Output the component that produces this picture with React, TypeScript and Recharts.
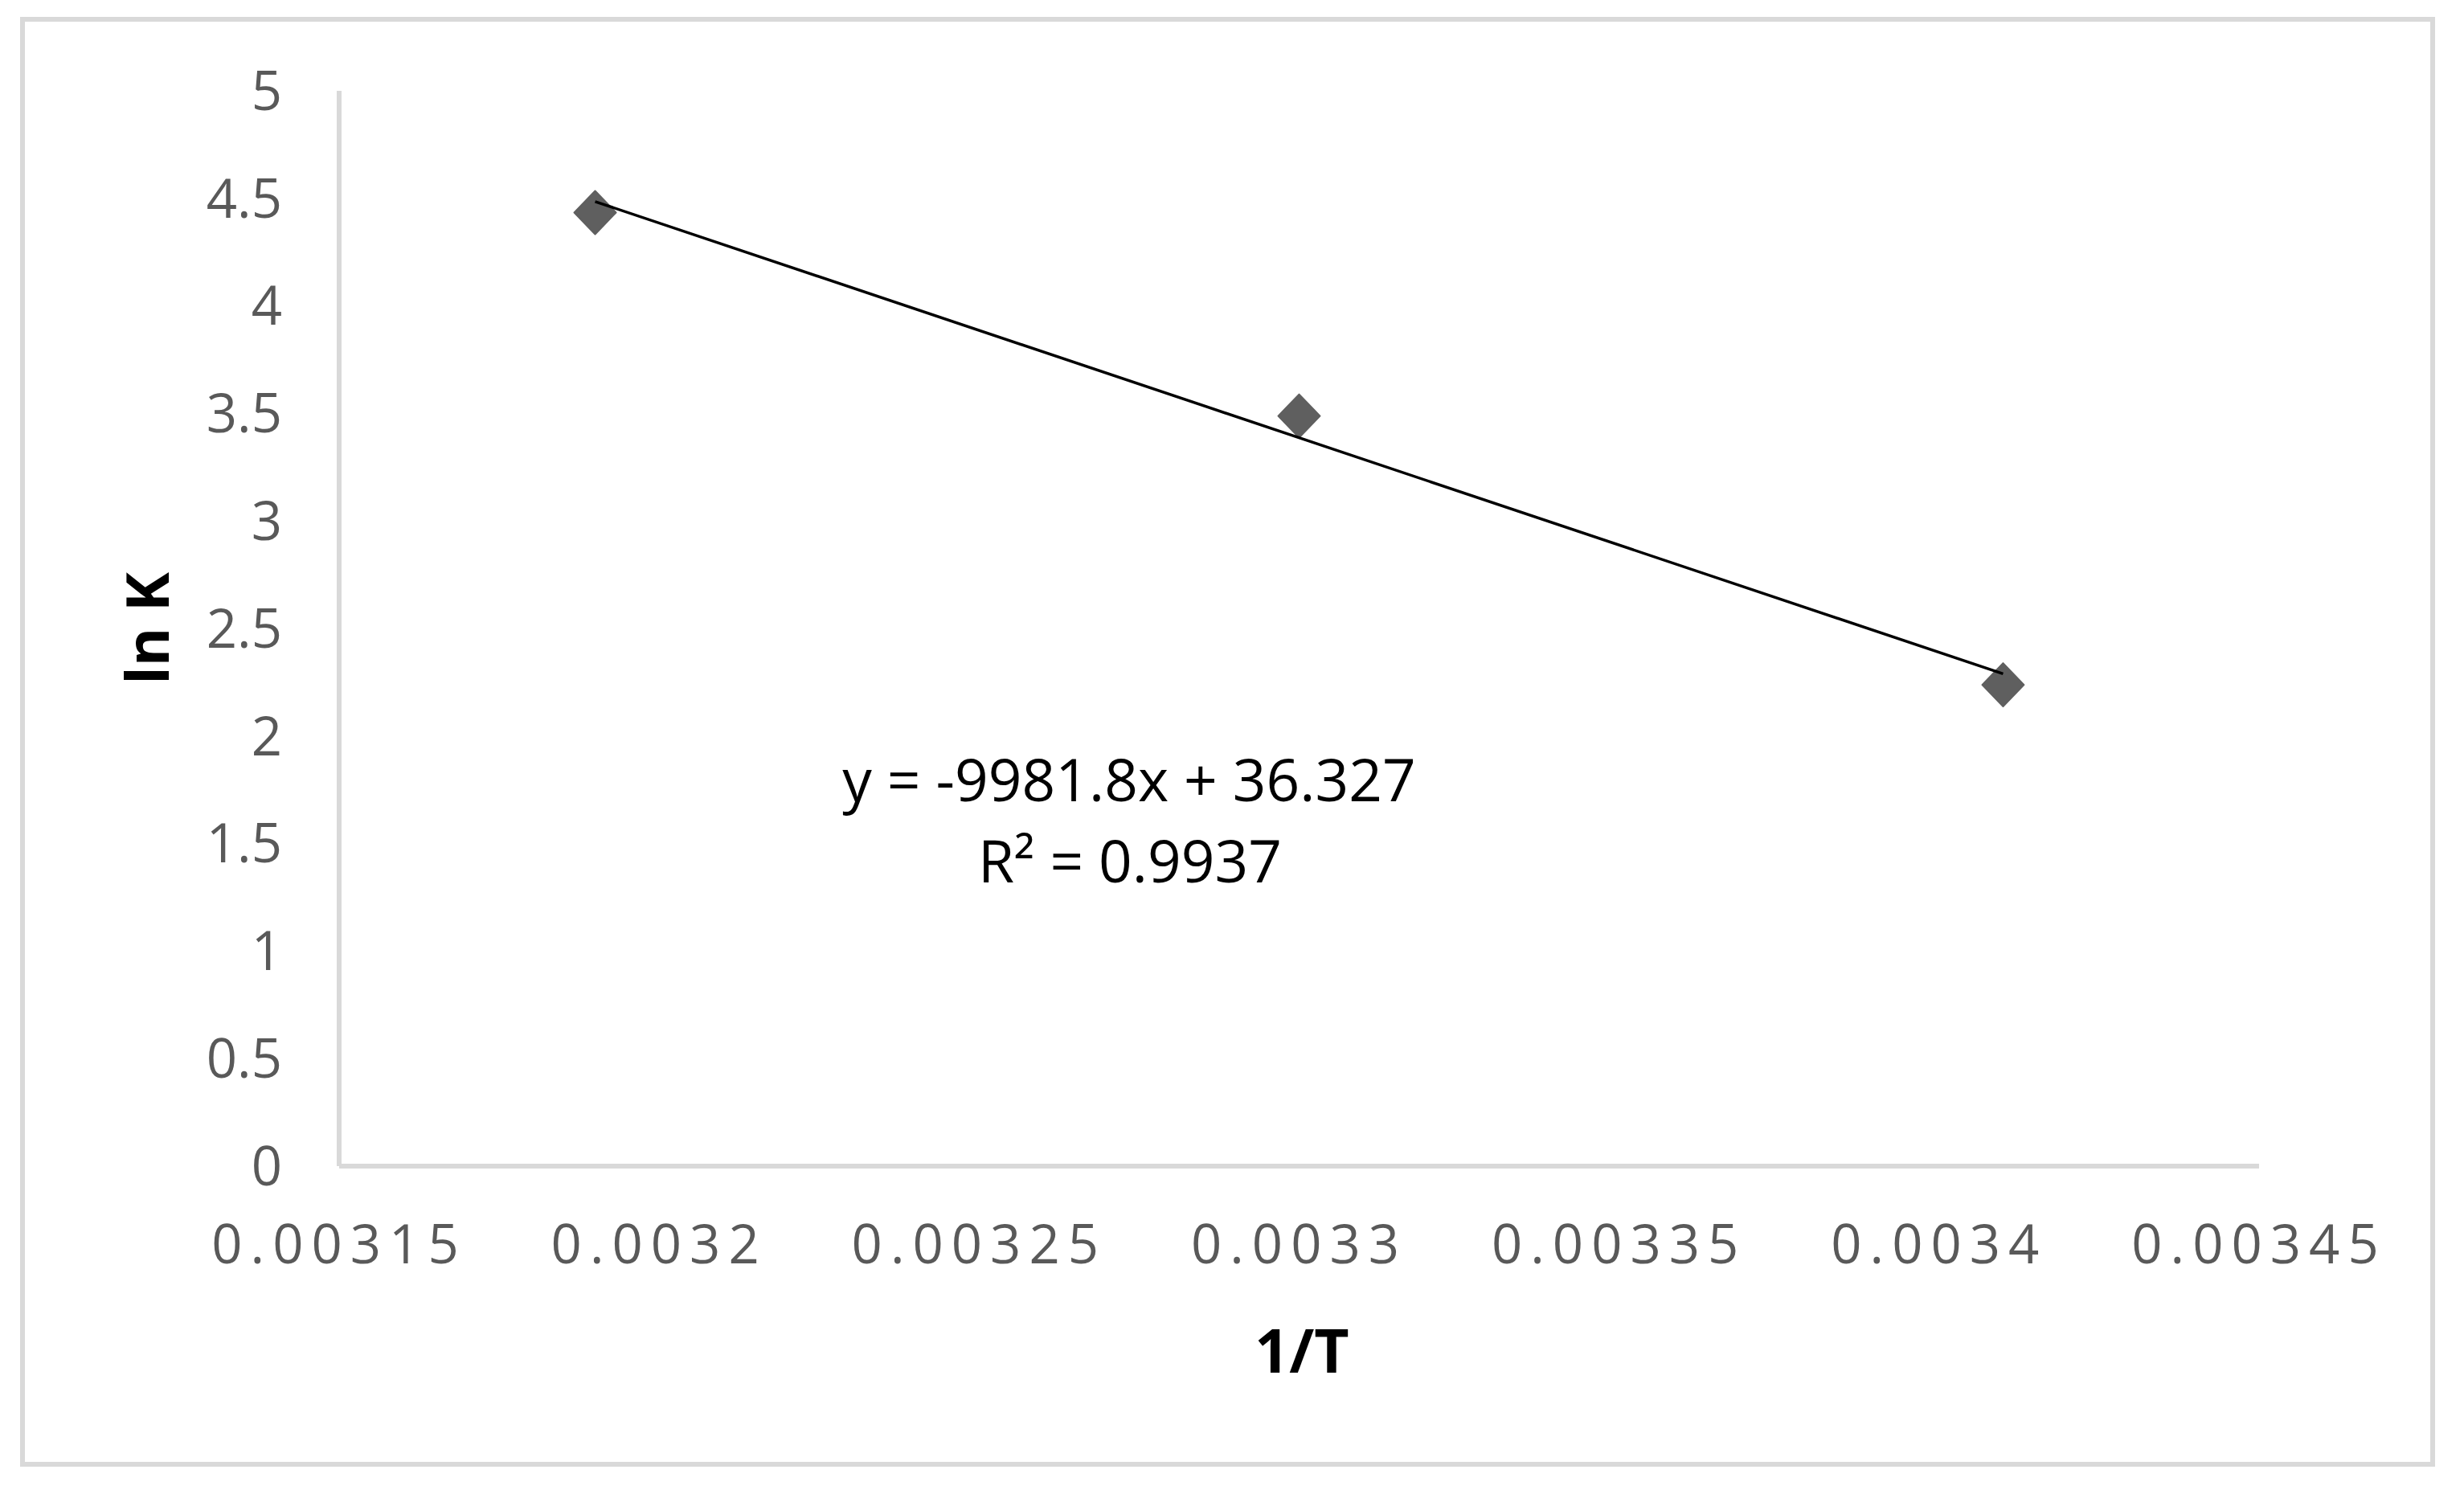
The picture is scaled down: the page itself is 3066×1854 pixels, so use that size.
import React from 'react';
import { ScatterChart, Scatter, XAxis, YAxis, Label, Customized } from 'recharts';

// 1/T values (x) and ln K values (y)
const invT = [0.00319, 0.0033, 0.00341];
const lnK = [4.434, 3.488, 2.238];

// Linear trendline end points
const trendInvT = [0.00319, 0.00341];
const trendLnK = [4.485, 2.289];

// Axis ticks and labels
const xTicks = [0.00315, 0.0032, 0.00325, 0.0033, 0.00335, 0.0034, 0.00345];
const xTickLabels = ['0.00315', '0.0032', '0.00325', '0.0033', '0.00335', '0.0034', '0.00345'];
const yTicks = [0, 0.5, 1, 1.5, 2, 2.5, 3, 3.5, 4, 4.5, 5];
const yTickLabels = ['0', '0.5', '1', '1.5', '2', '2.5', '3', '3.5', '4', '4.5', '5'];

const xTitle = '1/T';
const yTitle = 'ln K';
const equationLine = 'y = -9981.8x + 36.327';
const r2Line = 'R² = 0.9937';

const points = invT.map((x, i) => ({ x, y: lnK[i] }));
const trend = trendInvT.map((x, i) => ({ x, y: trendLnK[i] }));

const FONT = "'Open Sans', 'Noto Sans', sans-serif";
const TICK_COLOR = '#595959';
const AXIS_COLOR = '#d9d9d9';

const Diamond = (props: any) => {
  const { cx, cy } = props;
  if (cx == null || cy == null) return <g />;
  const h = 27;
  const w = 26;
  const d = `M${cx},${cy - h} L${cx + w},${cy} L${cx},${cy + h} L${cx - w},${cy} Z`;
  return <path d={d} fill="#5f5f5f" stroke="#5f5f5f" strokeWidth={2} strokeLinejoin="round" />;
};

const NoShape = () => <g />;

const Equation = () => (
  <g>
    <text x={1405} y={997} textAnchor="middle" fontFamily={FONT} fontSize={73} fill="#000">
      {equationLine}
    </text>
    <text x={1406} y={1098} textAnchor="middle" fontFamily={FONT} fontSize={73} fill="#000">
      {r2Line}
    </text>
  </g>
);

export default function App() {
  return (
    <div style={{ position: 'absolute', left: 0, top: 0, width: 3066, height: 1854, background: '#fff' }}>
      <div
        style={{
          position: 'absolute',
          left: 25,
          top: 21,
          width: 3005,
          height: 1804,
          boxSizing: 'border-box',
          border: `6px solid ${AXIS_COLOR}`,
        }}
      />
      <div style={{ position: 'absolute', left: 0, top: 0 }}>
        <ScatterChart width={3066} height={1854} margin={{ top: 113, right: 255, bottom: 0, left: 0 }}>
          <XAxis
            type="number"
            dataKey="x"
            domain={[0.00315, 0.00345]}
            ticks={xTicks}
            interval={0}
            allowDataOverflow
            height={403}
            tickLine={false}
            tickSize={0}
            tickMargin={73}
            axisLine={{ stroke: AXIS_COLOR, strokeWidth: 6 }}
            tick={{ fill: TICK_COLOR, fontSize: 67, fontFamily: FONT, letterSpacing: 10 }}
            tickFormatter={(v: number, i: number) => xTickLabels[i] ?? String(v)}
          >
            <Label
              content={() => (
                <text
                  x={1620}
                  y={1708}
                  textAnchor="middle"
                  fontFamily={FONT}
                  fontWeight="bold"
                  fontSize={75}
                  fill="#000"
                >
                  {xTitle}
                </text>
              )}
            />
          </XAxis>
          <YAxis
            type="number"
            dataKey="y"
            domain={[0, 5]}
            ticks={yTicks}
            interval={0}
            width={422}
            tickLine={false}
            tickSize={0}
            tickMargin={71}
            axisLine={{ stroke: AXIS_COLOR, strokeWidth: 6 }}
            tick={{ fill: TICK_COLOR, fontSize: 67, fontFamily: FONT }}
            tickFormatter={(v: number, i: number) => yTickLabels[i] ?? String(v)}
          >
            <Label
              content={() => (
                <text
                  x={183}
                  y={782}
                  dy="0.36em"
                  transform="rotate(-90, 183, 782)"
                  textAnchor="middle"
                  fontFamily={FONT}
                  fontWeight="bold"
                  fontSize={74}
                  fill="#000"
                >
                  {yTitle}
                </text>
              )}
            />
          </YAxis>
          <Scatter data={points} shape={<Diamond />} isAnimationActive={false} />
          <Scatter
            data={trend}
            line={{ stroke: '#000', strokeWidth: 3.5 }}
            shape={<NoShape />}
            isAnimationActive={false}
          />
          <Customized component={<Equation />} />
        </ScatterChart>
      </div>
    </div>
  );
}
